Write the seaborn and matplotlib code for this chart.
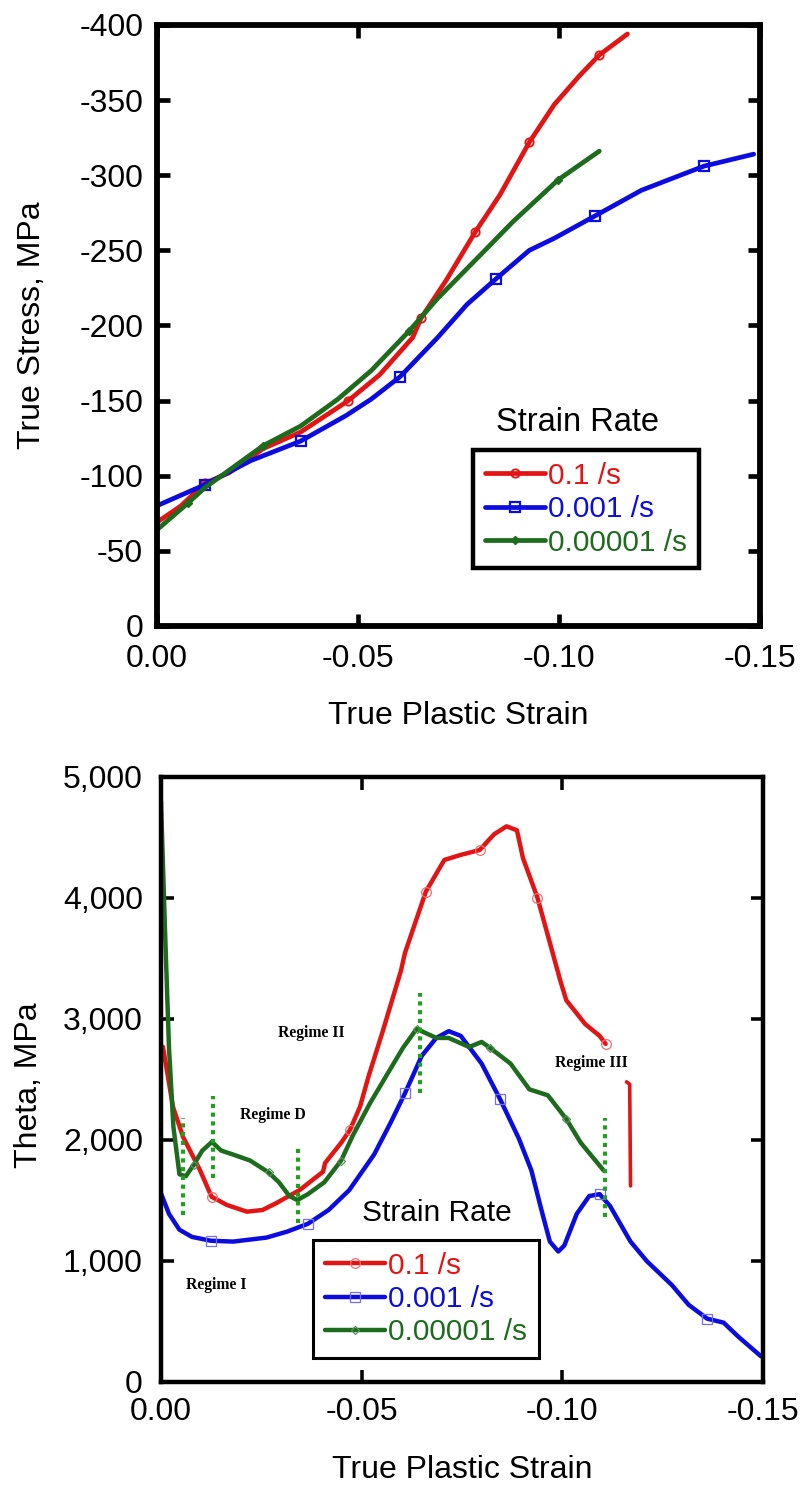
"""Stress-strain and hardening-rate (theta) curves for three strain rates."""

import matplotlib

matplotlib.use("Agg")
import matplotlib.pyplot as plt
from matplotlib.lines import Line2D
from matplotlib.ticker import FuncFormatter
import seaborn as sns


RATES = ["0.1 /s", "0.001 /s", "0.00001 /s"]
COLORS = ["#e31414", "#0c0ce0", "#1d6b1d"]
DOT_GREEN = "#1fa01f"

# top panel: true stress vs true plastic strain (compression, negative)
red_top_x = [0, -0.006, -0.0119, -0.018, -0.0264, -0.0357, -0.0476, -0.0553, -0.0636,
             -0.0657, -0.0719, -0.0791, -0.0853, -0.0926, -0.0988, -0.105, -0.110, -0.117]
red_top_y = [-69, -80, -95, -102, -118, -129, -150, -167, -192,
             -205, -230, -262, -287, -322, -347, -366, -380, -394]
blue_top_x = [0, -0.0119, -0.0233, -0.0357, -0.047, -0.0533, -0.0605, -0.0698, -0.0771,
              -0.0843, -0.0926, -0.0988, -0.109, -0.1205, -0.136, -0.1484]
blue_top_y = [-80, -94, -110, -123, -140, -151, -166, -192, -214,
              -231, -250, -258, -273, -290, -306, -314]
green_top_x = [0, -0.0078, -0.0119, -0.0264, -0.0357, -0.045, -0.0533, -0.0626, -0.0698,
               -0.0812, -0.0885, -0.0998, -0.110]
green_top_y = [-64, -82, -92, -120, -133, -151, -170, -196, -218,
               -249, -269, -297, -316]
red_top_marks = [2, 6, 9, 11, 13, 16]
blue_top_marks = [1, 3, 6, 9, 12, 14]
green_top_marks = [1, 3, 7, 11]

# bottom panel: theta vs true plastic strain
red_bot_x = [-0.0005, -0.003, -0.0055, -0.0097, -0.0126, -0.0164, -0.0214, -0.0253, -0.0288,
             -0.0346, -0.0404, -0.0409, -0.0449, -0.0471, -0.0496, -0.0517, -0.0552, -0.0598,
             -0.0608, -0.066, -0.0706, -0.0747, -0.0794, -0.083, -0.0861, -0.0887, -0.0902,
             -0.0938, -0.0995, -0.101, -0.1057, -0.1093, -0.1108]
red_bot_y = [2769, 2273, 2025, 1752, 1531, 1463, 1407, 1421, 1479,
             1587, 1738, 1810, 1977, 2083, 2275, 2523, 2892, 3399,
             3546, 4052, 4314, 4356, 4396, 4526, 4592, 4559, 4330,
             4003, 3317, 3154, 2958, 2860, 2794]
red_tail_x = [-0.1160, -0.1168, -0.1170]
red_tail_y = [2480, 2460, 1620]
blue_bot_x = [0, -0.002, -0.0046, -0.0077, -0.0124, -0.018, -0.0263, -0.0314, -0.0366,
              -0.0418, -0.0469, -0.0531, -0.0572, -0.0608, -0.065, -0.0686, -0.0717, -0.0747,
              -0.0799, -0.0845, -0.0892, -0.0923, -0.0948, -0.0969, -0.099, -0.1005, -0.1036,
              -0.1067, -0.1093, -0.1119, -0.117, -0.1211, -0.1273, -0.1315, -0.1361, -0.1402,
              -0.1438, -0.1495]
blue_bot_y = [1560, 1389, 1258, 1199, 1167, 1160, 1193, 1242, 1307,
              1422, 1585, 1879, 2141, 2386, 2696, 2843, 2899, 2860,
              2631, 2337, 2010, 1748, 1422, 1160, 1078, 1127, 1389,
              1536, 1552, 1454, 1160, 997, 801, 637, 523, 490,
              376, 212]
green_bot_x = [0, -0.001, -0.002, -0.0031, -0.0046, -0.0062, -0.0082, -0.0103, -0.0127,
               -0.015, -0.018, -0.0222, -0.0268, -0.0294, -0.032, -0.034, -0.0366, -0.0407,
               -0.0449, -0.0479, -0.0521, -0.0562, -0.0603, -0.0637, -0.0686, -0.0717, -0.0768,
               -0.0799, -0.082, -0.0871, -0.0918, -0.0964, -0.101, -0.1046, -0.1103]
green_bot_y = [4800, 3742, 2761, 2108, 1716, 1700, 1797, 1912, 1984,
               1912, 1879, 1830, 1732, 1650, 1536, 1503, 1552, 1650,
               1830, 2043, 2304, 2533, 2761, 2918, 2843, 2843, 2768,
               2810, 2761, 2631, 2418, 2369, 2173, 1977, 1748]
red_bot_marks = [4, 13, 19, 22, 27, 32]
blue_bot_marks = [4, 8, 13, 19, 28, 34]
green_bot_marks = [6, 12, 18, 23, 28, 32]

# regime boundaries (dotted)
bound_x = [-0.0056, -0.013, -0.0342, -0.0645, -0.1106]
bound_lo = [1380, 1686, 1314, 2388, 1364]
bound_hi = [2182, 2364, 1959, 3215, 2182]


def style_axes(ax, lw, pad_x, pad_y):
    for s in ax.spines.values():
        s.set_linewidth(lw)
        s.set_color("black")
    ax.tick_params(direction="in", top=True, right=True, length=9, width=lw * 0.8,
                   labelsize=23, colors="black")
    ax.tick_params(axis="x", pad=pad_x)
    ax.tick_params(axis="y", pad=pad_y)
    ax.grid(False)


def make_legend(ax, handles, anchor, frame_lw):
    leg = ax.legend(handles, RATES, loc="upper left", bbox_to_anchor=anchor,
                    borderaxespad=0, fontsize=21.5, labelcolor=COLORS, frameon=True,
                    fancybox=False, framealpha=1, edgecolor="black", handlelength=2.0,
                    handletextpad=0.12, labelspacing=0.18, borderpad=0.4)
    leg.get_frame().set_linewidth(frame_lw)
    return leg


def main() -> None:
    sns.set_theme(style="ticks")
    plt.rcParams["font.family"] = ["Liberation Sans", "DejaVu Sans"]
    plt.rcParams["axes.unicode_minus"] = False
    plt.rcParams["text.color"] = "black"
    plt.rcParams["axes.labelcolor"] = "black"

    fig = plt.figure(figsize=(8.02, 14.85), dpi=100)
    ax1 = fig.add_axes([0.1958, 0.5785, 0.752, 0.4047])
    ax2 = fig.add_axes([0.2007, 0.0694, 0.7506, 0.4074])

    # ---- top panel
    top = [
        (red_top_x, red_top_y, red_top_marks, "o", dict(mfc="none", ms=6, mew=1.3)),
        (blue_top_x, blue_top_y, blue_top_marks, "s", dict(mfc="none", ms=6.5, mew=1.6)),
        (green_top_x, green_top_y, green_top_marks, "D", dict(ms=4.5, mew=1)),
    ]
    for (xs, ys, marks, m, mk), c in zip(top, COLORS):
        sns.lineplot(x=xs, y=ys, ax=ax1, color=c, lw=3.4, sort=False, estimator=None,
                     marker=m, markevery=marks, mec=c, **mk)
    ax1.set_xlim(0, -0.15)
    ax1.set_ylim(0, -400)
    ax1.set_xticks([0, -0.05, -0.10, -0.15])
    ax1.set_yticks(range(0, -401, -50))
    ax1.xaxis.set_major_formatter(FuncFormatter(lambda v, p: f"{v:.2f}"))
    style_axes(ax1, 4.2, 13, 10)
    ax1.set_xlabel("True Plastic Strain", fontsize=23)
    ax1.set_ylabel("True Stress, MPa", fontsize=23)
    ax1.xaxis.set_label_coords(0.5, -0.125)
    ax1.yaxis.set_label_coords(-0.182, 0.5)

    handles1 = [
        Line2D([], [], color=COLORS[0], lw=3.4, marker="o", mfc="none", mec=COLORS[0], ms=6, mew=1.3),
        Line2D([], [], color=COLORS[1], lw=3.4, marker="s", mfc="none", mec=COLORS[1], ms=6.5, mew=1.6),
        Line2D([], [], color=COLORS[2], lw=3.4, marker="D", mec=COLORS[2], ms=4.5),
    ]
    make_legend(ax1, handles1, (0.524, 0.293), 3.2)
    ax1.text(0.697, 0.338, "Strain Rate", transform=ax1.transAxes, fontsize=23.5,
             ha="center", va="center")

    # ---- bottom panel
    bot = [
        (red_bot_x, red_bot_y, red_bot_marks, "o", "#f07070", 7),
        (blue_bot_x, blue_bot_y, blue_bot_marks, "s", "#7070f0", 7),
        (green_bot_x, green_bot_y, green_bot_marks, "D", "#5a905a", 4.5),
    ]
    for (xs, ys, marks, m, ec, ms), c in zip(bot, COLORS):
        sns.lineplot(x=xs, y=ys, ax=ax2, color=c, lw=3.2, sort=False, estimator=None,
                     marker=m, markevery=marks, mfc="none", mec=ec, ms=ms, mew=0.9)
    sns.lineplot(x=red_tail_x, y=red_tail_y, ax=ax2, color=COLORS[0], lw=2.6,
                 sort=False, estimator=None)
    ax2.vlines(bound_x, bound_lo, bound_hi, colors=DOT_GREEN, linestyles=(0, (1, 1.1)),
               lw=3, zorder=4)
    ax2.set_xlim(0, -0.15)
    ax2.set_ylim(0, 5000)
    ax2.set_xticks([0, -0.05, -0.10, -0.15])
    ax2.set_yticks(range(0, 5001, 1000))
    ax2.xaxis.set_major_formatter(FuncFormatter(lambda v, p: f"{v:.2f}"))
    ax2.yaxis.set_major_formatter(FuncFormatter(lambda v, p: f"{int(v):,}"))
    style_axes(ax2, 3.2, 11, 13)
    ax2.set_xlabel("True Plastic Strain", fontsize=23)
    ax2.set_ylabel("Theta, MPa", fontsize=23)
    ax2.xaxis.set_label_coords(0.5, -0.12)
    ax2.yaxis.set_label_coords(-0.195, 0.49)

    serif = dict(family=["Liberation Serif", "DejaVu Serif"], fontweight="bold",
                 fontsize=11.3, ha="center", va="center", zorder=6)
    ax2.text(-0.0375, 2886, "Regime II", **serif)
    ax2.text(-0.028, 2207, "Regime D", **serif)
    ax2.text(-0.0137, 800, "Regime I", **serif)
    ax2.text(-0.1073, 2639, "Regime III", **serif)

    handles2 = [
        Line2D([], [], color=COLORS[0], lw=3.2, marker="o", mfc="none", mec="#f07070", ms=7, mew=0.9),
        Line2D([], [], color=COLORS[1], lw=3.2, marker="s", mfc="none", mec="#7070f0", ms=7, mew=0.9),
        Line2D([], [], color=COLORS[2], lw=3.2, marker="D", mfc="none", mec="#5a905a", ms=4.5, mew=0.9),
    ]
    make_legend(ax2, handles2, (0.2525, 0.235), 2.2)
    ax2.text(0.458, 0.279, "Strain Rate", transform=ax2.transAxes, fontsize=21.5,
             ha="center", va="center")

    fig.savefig("out.png", dpi=100)
    plt.close(fig)


if __name__ == "__main__":
    main()
